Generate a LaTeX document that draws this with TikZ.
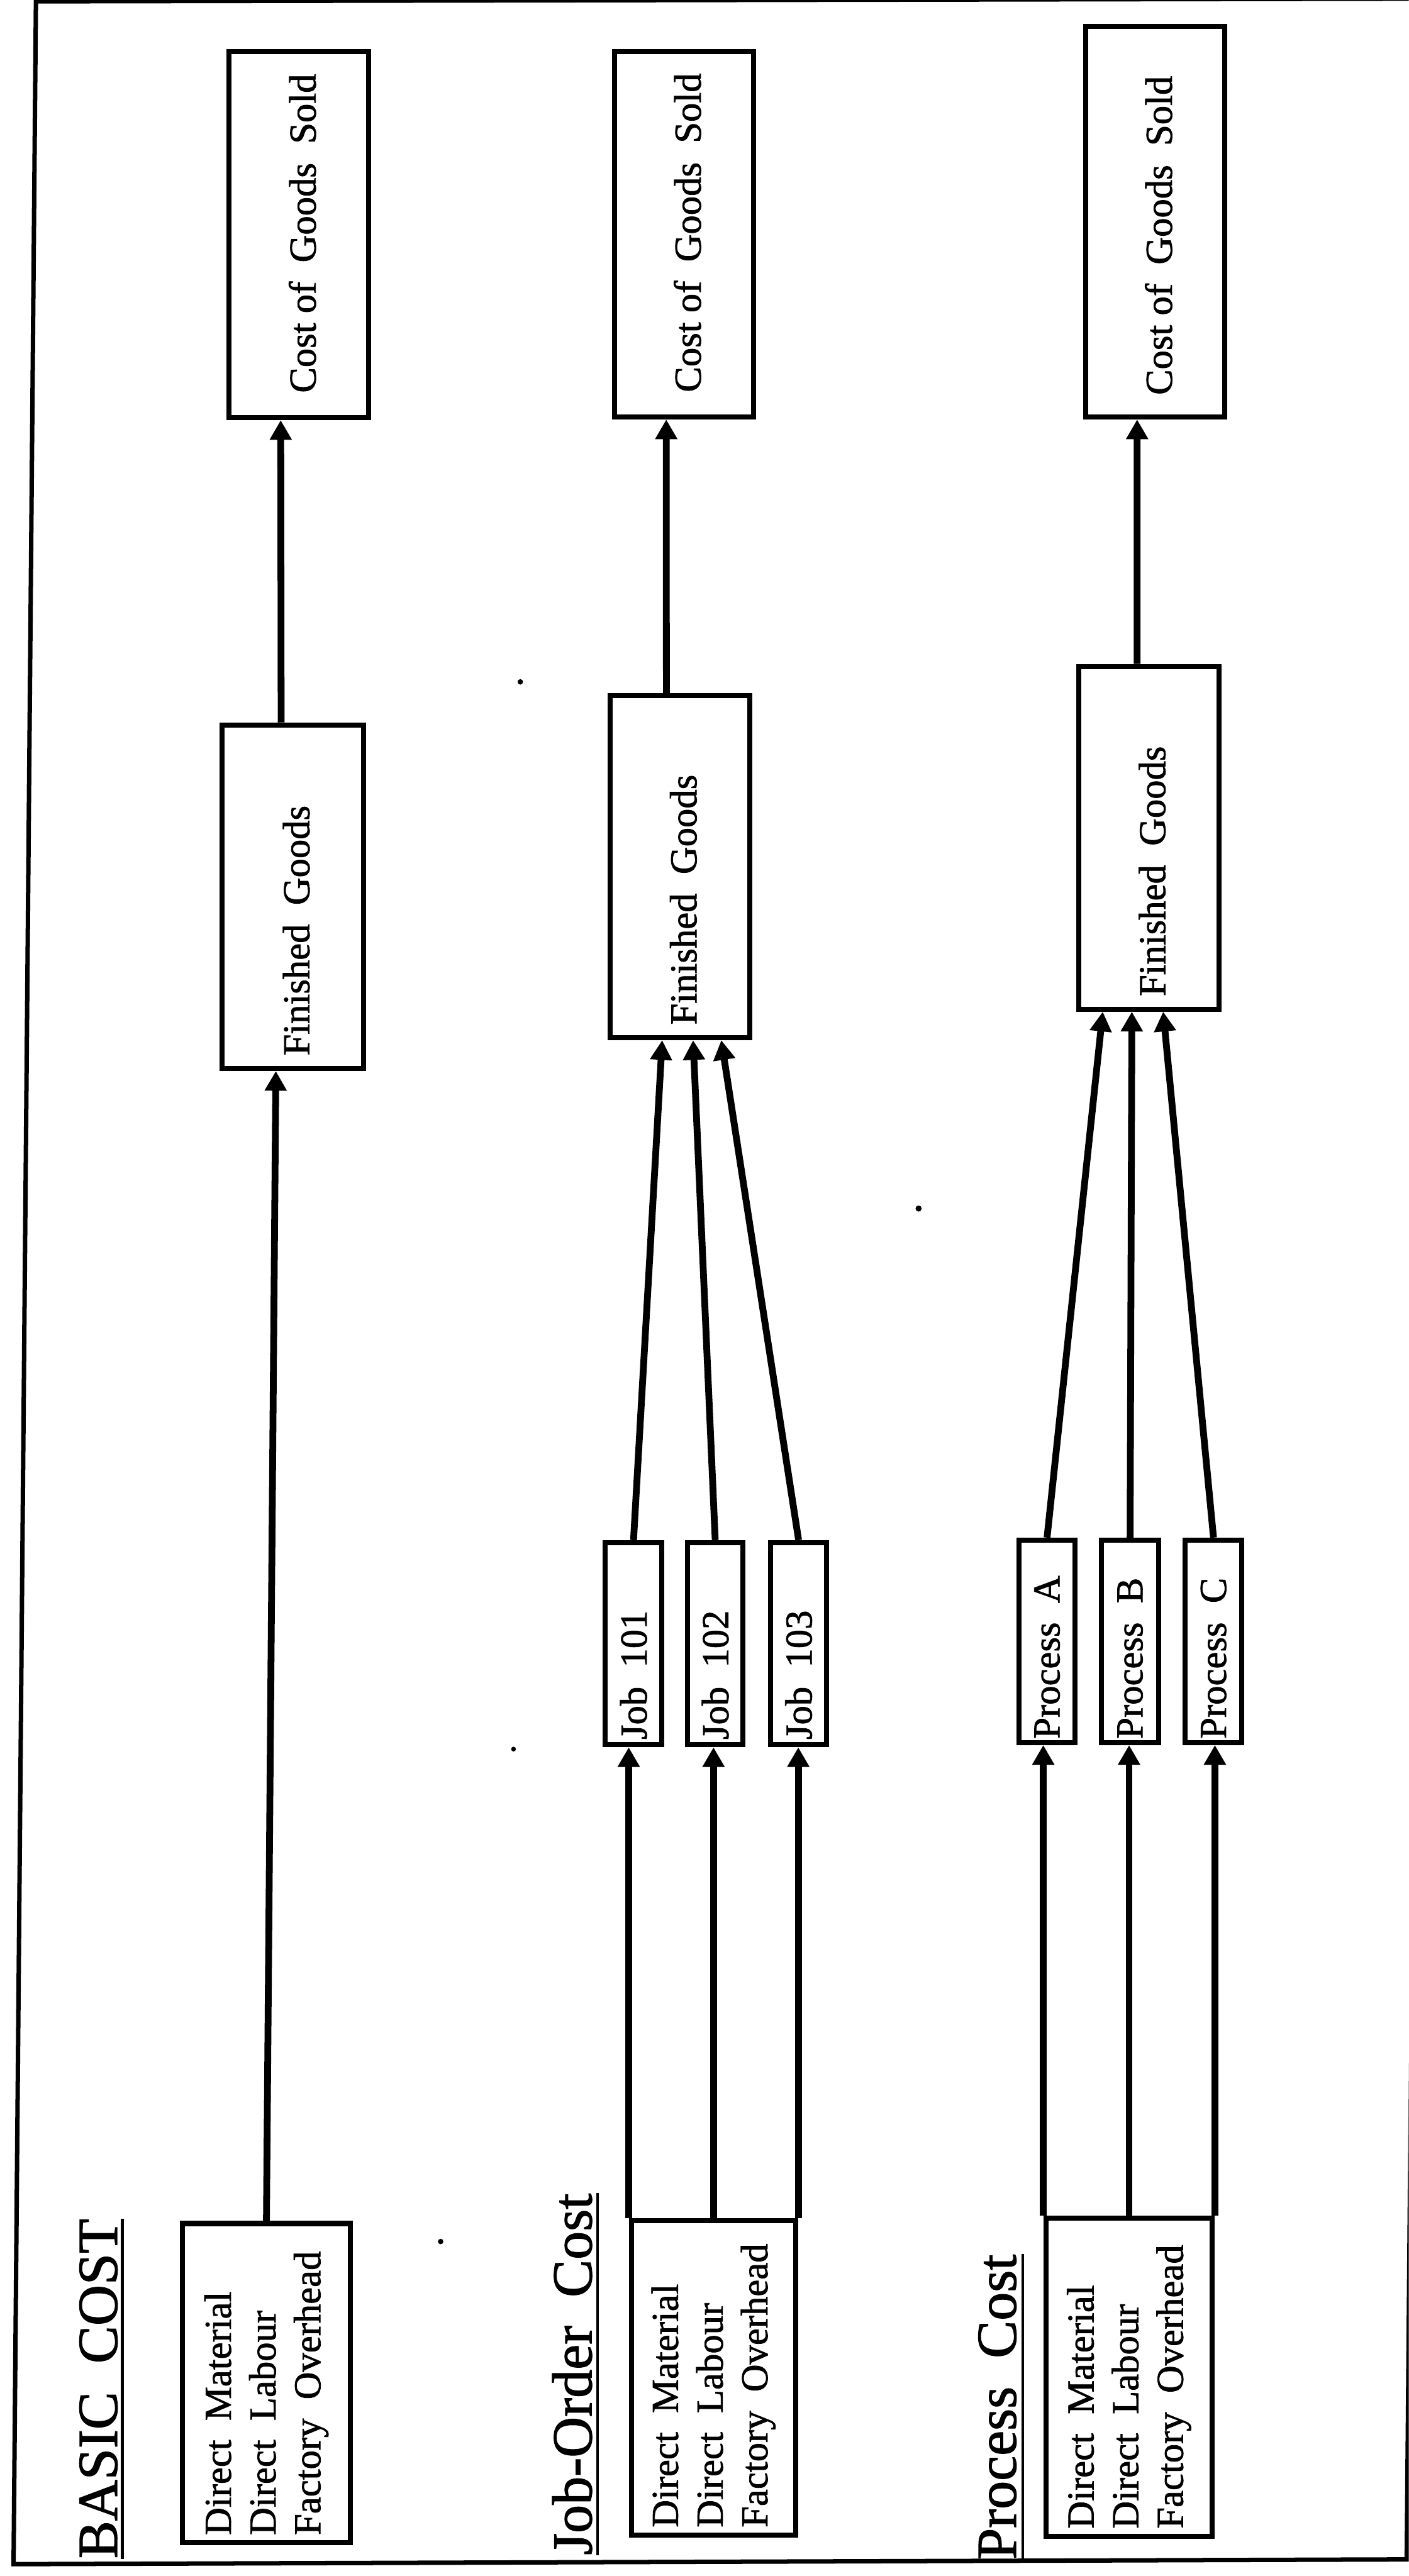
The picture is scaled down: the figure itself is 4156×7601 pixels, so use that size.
\documentclass[tikz,border=0pt]{standalone}
\usepackage{fontspec}
\setmainfont{Liberation Serif}
\newfontfamily\heavy{Liberation Serif}[FakeBold=1.3]
\usetikzlibrary{arrows.meta,calc}
\newcommand\wsp{\hspace{0.5em}}
\begin{document}
\begin{tikzpicture}[x=0.01cm,y=-0.01cm,
  bx/.style={draw, line width=0.15cm, inner sep=0pt},
  lbl/.style={rotate=90, inner sep=0pt, anchor=west, font=\heavy\fontsize{32}{37.5}\selectfont},
  ttl/.style={rotate=90, inner sep=0pt, anchor=base west, font=\heavy\fontsize{47.5}{50}\selectfont},
  arr/.style={line width=0.2cm, -{Triangle[length=0.58cm,width=0.62cm]}},
  uline/.style={line width=0.08cm},
  frame/.style={line width=0.13cm}]
\useasboundingbox (0,0) rectangle (4156,7601);
\clip (0,0) rectangle (4156,7601);
\fill[white] (0,0) rectangle (4156,7601);
\draw[frame] (106,4) -- (40,7566) -- (4150,7552) -- (4216,-4) -- cycle;

% titles
\node[ttl] (t1) at (345,7550) {BASIC\wsp COST};
\node[ttl] (t2) at (1745,7540) {Job-Order\wsp Cost};
\node[ttl] (t3) at (2997,7553) {Process\wsp Cost};
\draw[uline] ([xshift=0.16cm]t1.base west) -- ([xshift=0.16cm]t1.base east);
\draw[uline] ([xshift=0.18cm]t2.base west) -- ([xshift=0.18cm]t2.base east);
\draw[uline] ([xshift=0.2cm]t3.base west) -- ([xshift=0.2cm]t3.base east);

% cost of goods sold
\node[bx, minimum width=4.12cm, minimum height=10.80cm] (cgs1) at (882,692) {};
\node[bx, minimum width=4.11cm, minimum height=10.78cm] (cgs2) at (2018,691) {};
\node[bx, minimum width=4.11cm, minimum height=11.52cm] (cgs3) at (3408,654) {};
\node[lbl] (cgs1t) at ([xshift=0.1cm,yshift=0.8cm]cgs1.south) {Cost of\wsp Goods\wsp Sold};
\node[lbl] (cgs2t) at ([xshift=0.1cm,yshift=0.8cm]cgs2.south) {Cost of\wsp Goods\wsp Sold};
\node[lbl] (cgs3t) at ([xshift=0.1cm,yshift=0.72cm]cgs3.south) {Cost of\wsp Goods\wsp Sold};

% finished goods
\node[bx, minimum width=4.17cm, minimum height=10.13cm] (fg1) at (864,2646) {};
\node[bx, minimum width=4.11cm, minimum height=10.09cm] (fg2) at (2006,2557) {};
\node[bx, minimum width=4.14cm, minimum height=10.11cm] (fg3) at (3389,2472) {};
\node[lbl] (fg1t) at ([xshift=0.1cm,yshift=0.45cm]fg1.south) {Finished\wsp Goods};
\node[lbl] (fg2t) at ([xshift=0.1cm,yshift=0.45cm]fg2.south) {Finished\wsp Goods};
\node[lbl] (fg3t) at ([xshift=0.1cm,yshift=0.45cm]fg3.south) {Finished\wsp Goods};

% jobs
\node[bx, minimum width=1.66cm, minimum height=5.96cm] (job1) at (1869,4850) {};
\node[bx, minimum width=1.64cm, minimum height=5.96cm] (job2) at (2110,4850) {};
\node[bx, minimum width=1.65cm, minimum height=5.96cm] (job3) at (2356,4850) {};
\node[lbl] (job1t) at ([yshift=0.22cm]job1.south) {Job\wsp 101};
\node[lbl] (job2t) at ([yshift=0.22cm]job2.south) {Job\wsp 102};
\node[lbl] (job3t) at ([yshift=0.22cm]job3.south) {Job\wsp 103};

% processes
\node[bx, minimum width=1.66cm, minimum height=5.97cm] (pr1) at (3089,4843) {};
\node[bx, minimum width=1.69cm, minimum height=5.97cm] (pr2) at (3334,4843) {};
\node[bx, minimum width=1.67cm, minimum height=5.97cm] (pr3) at (3580,4843) {};
\node[lbl] (pr1t) at ([yshift=0.18cm]pr1.south) {Process\wsp A};
\node[lbl] (pr2t) at ([yshift=0.18cm]pr2.south) {Process\wsp B};
\node[lbl] (pr3t) at ([yshift=0.18cm]pr3.south) {Process\wsp C};

% sources
\node[bx, minimum width=4.96cm, minimum height=9.42cm] (src1) at (786,7032) {};
\node[bx, minimum width=4.85cm, minimum height=9.27cm] (src2) at (2105,7017) {};
\node[bx, minimum width=4.91cm, minimum height=9.38cm] (src3) at (3331,7015) {};
\node[lbl, align=left] (src1t) at ([yshift=0.3cm]src1.south) {Direct\wsp Material\\Direct\wsp Labour\\Factory\wsp Overhead};
\node[lbl, align=left] (src2t) at ([yshift=0.3cm]src2.south) {Direct\wsp Material\\Direct\wsp Labour\\Factory\wsp Overhead};
\node[lbl, align=left] (src3t) at ([yshift=0.3cm]src3.south) {Direct\wsp Material\\Direct\wsp Labour\\Factory\wsp Overhead};

% connectors: basic
\draw[arr] (src1.north) -- ($(fg1.south west)!0.384!(fg1.south east)$);
\draw[arr] ($(fg1.north west)!0.42!(fg1.north east)$) -- ($(cgs1.south west)!0.374!(cgs1.south east)$);

% job-order
\draw[arr] (src2.north west) -- (src2.north west |- job1.south);
\draw[arr] (src2.north) -- (src2.north |- job2.south);
\draw[arr] (src2.north east) -- (src2.north east |- job3.south);
\draw[arr] (job1.north) -- ($(fg2.south west)!0.377!(fg2.south east)$);
\draw[arr] (job2.north) -- ($(fg2.south west)!0.591!(fg2.south east)$);
\draw[arr] (job3.north) -- ($(fg2.south west)!0.786!(fg2.south east)$);
\draw[arr] ($(fg2.north west)!0.406!(fg2.north east)$) -- ($(cgs2.south west)!0.377!(cgs2.south east)$);

% process
\draw[arr] (src3.north west) -- (src3.north west |- pr1.south);
\draw[arr] (src3.north) -- (src3.north |- pr2.south);
\draw[arr] (src3.north east) -- (src3.north east |- pr3.south);
\draw[arr] (pr1.north) -- ($(fg3.south west)!0.184!(fg3.south east)$);
\draw[arr] (pr2.north) -- ($(fg3.south west)!0.384!(fg3.south east)$);
\draw[arr] (pr3.north) -- ($(fg3.south west)!0.599!(fg3.south east)$);
\draw[arr] ($(fg3.north west)!0.42!(fg3.north east)$) -- ($(cgs3.south west)!0.375!(cgs3.south east)$);

% specks
\fill (1535,2012) circle (0.08cm);
\fill (2710,3566) circle (0.09cm);
\fill (1515,5161) circle (0.07cm);
\fill (1300,6614) circle (0.08cm);
\end{tikzpicture}
\end{document}
